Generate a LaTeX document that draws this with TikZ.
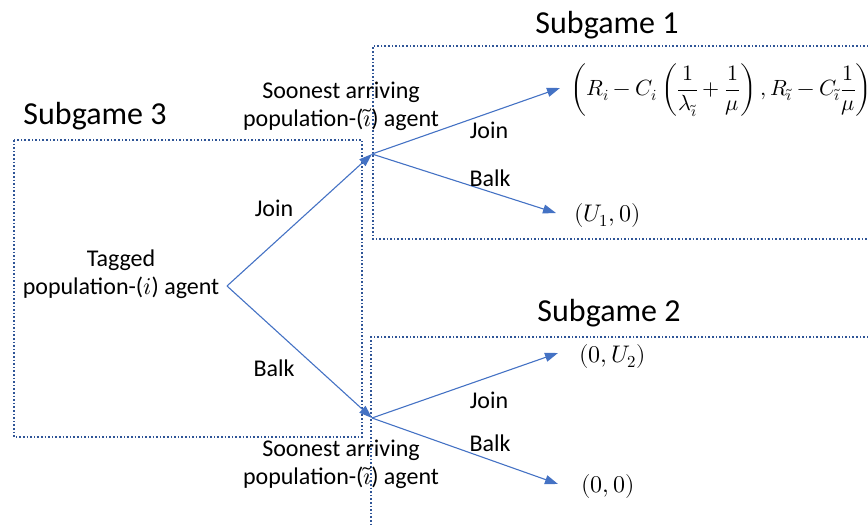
\documentclass[tikz,border=0pt]{standalone}
\usepackage{fontspec}
\usepackage{unicode-math}
\setmainfont{Carlito}
\setmathfont{Latin Modern Math}
\usetikzlibrary{arrows.meta}
\definecolor{branch}{HTML}{4472C4}
\definecolor{frame}{HTML}{2F5597}
\begin{document}
\begin{tikzpicture}[x=1pt,y=-1pt,
  title/.style={font=\fontsize{32}{38}\selectfont},
  lbl/.style={font=\fontsize{24}{28}\selectfont, align=center, inner sep=0pt},
  pay/.style={font=\fontsize{24}{30}\selectfont, anchor=west, inner sep=0pt},
  edge/.style={draw=branch, line width=1.1pt, -{Triangle[length=13pt,width=9pt]}},
  gamebox/.style={draw=frame, line width=1.6pt, dotted}]
\useasboundingbox (0,0) rectangle (868,525);

% subgame frames
\draw[gamebox] (14,140) rectangle (362,437);
\draw[gamebox] (872,46) -- (373,46) -- (373,239) -- (872,239);
\draw[gamebox] (872,337) -- (371,337) -- (371,530);

% titles
\node[title] (t3) at (95,116) {Subgame 3};
\node[title] (t1) at (607,25) {Subgame 1};
\node[title] (t2) at (609,313) {Subgame 2};

% decision points
\coordinate (root) at (227,286);
\coordinate (up) at (372,154);
\coordinate (lo) at (372,418);

\node[lbl] (tagged) at (121,274) {Tagged\\population-($i$) agent};
\node[lbl] (sa1) at (341,106) {Soonest arriving\\population-($\tilde{\imath}$) agent};
\node[lbl] (sa2) at (341,464) {Soonest arriving\\population-($\tilde{\imath}$) agent};

% payoffs
\node[pay, font=\fontsize{22}{26}\selectfont] (p1) at (570,90) {$\displaystyle\left(R_i - C_i\left(\frac{1}{\lambda_{\tilde{\imath}}}+\frac{1}{\mu}\right), R_{\tilde{\imath}} - C_{\tilde{\imath}}\frac{1}{\mu}\right)$};
\node[pay] (p2) at (574,215) {$(U_1, 0)$};
\node[pay] (p3) at (579,356) {$(0, U_2)$};
\node[pay] (p4) at (581,486) {$(0,0)$};

\coordinate (e1) at (560,88);
\coordinate (e2) at (556,213);
\coordinate (e3) at (558,353);
\coordinate (e4) at (558,484);

% branches
\draw[edge] (root) -- (up);
\draw[edge] (root) -- (lo);
\draw[edge] (up) -- (e1);
\draw[edge] (up) -- (e2);
\draw[edge] (lo) -- (e3);
\draw[edge] (lo) -- (e4);

% branch labels
\node[lbl] (j0) at (274,208) {Join};
\node[lbl] (b0) at (274,368) {Balk};
\node[lbl] (j1) at (489,130) {Join};
\node[lbl] (b1) at (490,178) {Balk};
\node[lbl] (j2) at (489,400) {Join};
\node[lbl] (b2) at (490,443) {Balk};
\end{tikzpicture}
\end{document}
